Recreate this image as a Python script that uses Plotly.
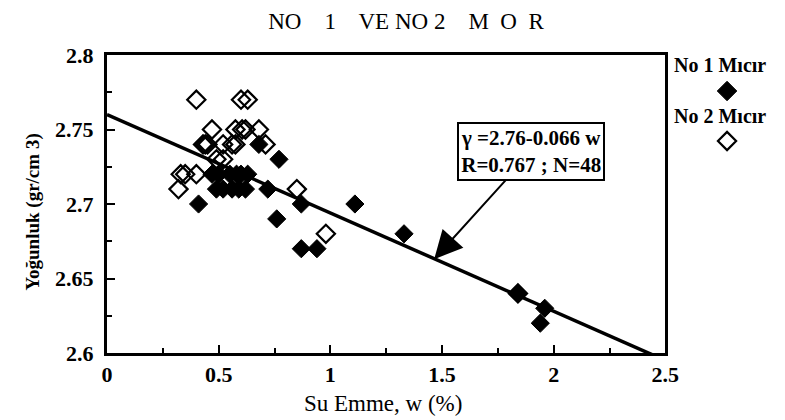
import plotly.graph_objects as go

# ---- data ----
no1_w = [0.41, 0.47, 0.49, 0.50, 0.52, 0.55, 0.56, 0.58, 0.59, 0.60, 0.62, 0.63,
         0.68, 0.72, 0.77, 0.76, 0.87, 0.87, 0.94, 1.11, 1.33, 1.84, 1.96, 1.94]
no1_g = [2.70, 2.72, 2.71, 2.72, 2.71, 2.72, 2.71, 2.72, 2.71, 2.72, 2.71, 2.72,
         2.74, 2.71, 2.73, 2.69, 2.70, 2.67, 2.67, 2.70, 2.68, 2.64, 2.63, 2.62]
no2_w = [0.40, 0.60, 0.63, 0.47, 0.575, 0.605, 0.68, 0.43, 0.45, 0.52, 0.575, 0.71,
         0.52, 0.33, 0.35, 0.40, 0.32, 0.85, 0.98, 1.84, 0.49, 0.62, 0.56, 0.44]
no2_g = [2.77, 2.77, 2.77, 2.75, 2.75, 2.75, 2.75, 2.74, 2.74, 2.74, 2.74, 2.74,
         2.73, 2.72, 2.72, 2.72, 2.71, 2.71, 2.68, 2.64, 2.73, 2.75, 2.74, 2.74]

fit_a, fit_b = 2.76, -0.066
fit_x = [0.0, 2.5]
fit_y = [fit_a + fit_b * v for v in fit_x]

NB = "\u00a0"
title_text = f"NO{NB*3} 1{NB*3} VE NO 2{NB*3} M{NB} O{NB} R"
xlabel = "Su Emme, w (%)"
ylabel = "Yoğunluk (gr/cm 3)"
legend1 = "No 1 Mıcır"
legend2 = "No 2 Mıcır"
box_text = "γ =2.76-0.066 w<br>R=0.767 ; N=48"
arrow_tip = (1.465, 2.663)
box_center = (1.90, 2.735)

x_ticks = [0, 0.5, 1, 1.5, 2, 2.5]
x_ticklabels = ["0", "0.5", "1", "1.5", "2", "2.5"]
y_ticks = [2.6, 2.65, 2.7, 2.75, 2.8]
y_ticklabels = ["2.6", "2.65", "2.7", "2.75", "2.8"]

serif = "Liberation Serif, Times New Roman, serif"

# layout geometry (pixels)
W, H = 785, 420
ML, MR, MT, MB = 99, 2, 47, 75
plot_w = W - ML - MR
main_dom = (669 - ML) / plot_w
leg_dom0 = main_dom + 0.01

def px_to_paper_x(px):
    return (px - ML) / plot_w

fig = go.Figure()
fig.add_trace(go.Scatter(x=fit_x, y=fit_y, mode="lines",
                         line=dict(color="black", width=3.5), showlegend=False,
                         hoverinfo="skip"))
fig.add_trace(go.Scatter(x=no2_w, y=no2_g, mode="markers", name=legend2,
                         marker=dict(symbol="diamond-open", size=14, color="black",
                                     line=dict(width=2.2, color="black")),
                         showlegend=False))
fig.add_trace(go.Scatter(x=no1_w, y=no1_g, mode="markers", name=legend1,
                         marker=dict(symbol="diamond", size=14, color="black",
                                     line=dict(width=1, color="black")),
                         showlegend=False))

# legend key symbols on a hidden helper axis to the right of the plot
leg_sym_x = (px_to_paper_x(732) - leg_dom0) / (1 - leg_dom0)
leg_sym_y = [(345 - 83) / 298, (345 - 133) / 298]
fig.add_trace(go.Scatter(x=[leg_sym_x], y=[leg_sym_y[0]], xaxis="x2", yaxis="y2",
                         mode="markers", showlegend=False, hoverinfo="skip",
                         marker=dict(symbol="diamond", size=15, color="black",
                                     line=dict(width=1, color="black"))))
fig.add_trace(go.Scatter(x=[leg_sym_x], y=[leg_sym_y[1]], xaxis="x2", yaxis="y2",
                         mode="markers", showlegend=False, hoverinfo="skip",
                         marker=dict(symbol="diamond-open", size=14, color="black",
                                     line=dict(width=2.2, color="black"))))

axis_common = dict(showline=True, linecolor="black", linewidth=3, mirror=True,
                   ticks="inside", ticklen=8, tickwidth=2, tickcolor="black",
                   showgrid=False, zeroline=False,
                   tickfont=dict(family=serif, size=22, color="black"))

fig.update_layout(
    xaxis=dict(domain=[0, main_dom], range=[0, 2.5], tickvals=x_ticks,
               ticktext=[f"<b>{t}</b>" for t in x_ticklabels],
               minor=dict(ticks="inside", ticklen=5, tickwidth=2, tickcolor="black", dtick=0.25),
               ticklabelstandoff=0, **axis_common),
    yaxis=dict(range=[2.6, 2.8], tickvals=y_ticks,
               ticktext=[f"<b>{t}</b>" for t in y_ticklabels],
               minor=dict(ticks="inside", ticklen=5, tickwidth=2, tickcolor="black", dtick=0.025),
               ticklabelstandoff=6, **axis_common),
    xaxis2=dict(domain=[leg_dom0, 1], range=[0, 1], visible=False, anchor="y2"),
    yaxis2=dict(domain=[0, 1], range=[0, 1], visible=False, anchor="x2"),
)

# x-axis title centred under the main plot
fig.add_annotation(xref="paper", yref="paper", x=main_dom / 2 - 0.005, y=-(395 - 345) / 298,
                   xanchor="center", yanchor="middle", text=xlabel, showarrow=False,
                   font=dict(family=serif, size=23, color="black"))

# y-axis title placed as rotated annotation
fig.add_annotation(xref="paper", yref="paper", x=px_to_paper_x(24), y=0.473,
                   xanchor="center", yanchor="middle",
                   text=f"<b>{ylabel}</b>", textangle=-90, showarrow=False,
                   font=dict(family=serif, size=19, color="black"))

fig.add_annotation(x=arrow_tip[0], y=arrow_tip[1], ax=box_center[0], ay=box_center[1],
                   axref="x", ayref="y", xref="x", yref="y",
                   text=f"<b>{box_text}</b>", showarrow=True, arrowhead=2, arrowsize=2.8,
                   arrowwidth=2, arrowcolor="black", standoff=0,
                   font=dict(family=serif, size=21, color="black"),
                   bgcolor="white", bordercolor="black", borderwidth=2, borderpad=2,
                   align="center")

fig.add_annotation(xref="paper", yref="paper", x=px_to_paper_x(676), y=(345 - 57) / 298,
                   xanchor="left", yanchor="middle",
                   text=f"<b>{legend1}</b>", showarrow=False,
                   font=dict(family=serif, size=20, color="black"))
fig.add_annotation(xref="paper", yref="paper", x=px_to_paper_x(676), y=(345 - 108) / 298,
                   xanchor="left", yanchor="middle",
                   text=f"<b>{legend2}</b>", showarrow=False,
                   font=dict(family=serif, size=20, color="black"))

fig.update_layout(
    width=W, height=H,
    margin=dict(l=ML, r=MR, t=MT, b=MB),
    paper_bgcolor="white", plot_bgcolor="white",
    title=dict(text=title_text, x=398 / W, xanchor="center", y=1 - 13 / H, yanchor="middle",
               font=dict(family=serif, size=23, color="black")),
    showlegend=False,
)

fig.write_html("out.html")
